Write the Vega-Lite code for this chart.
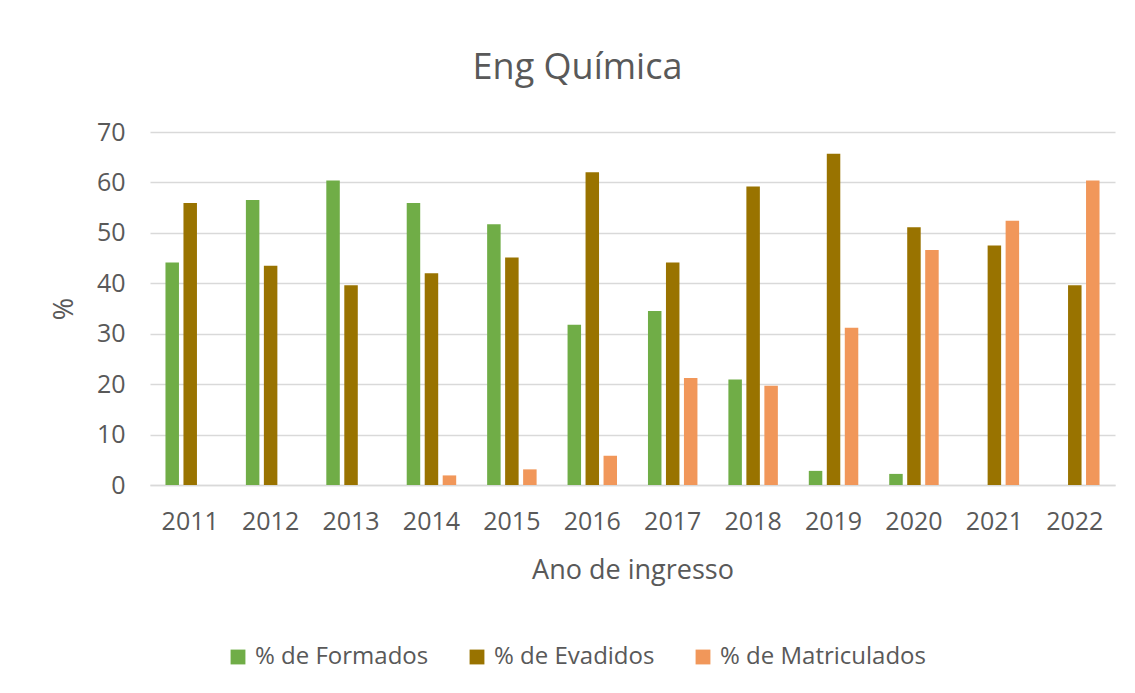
{
  "$schema": "https://vega.github.io/schema/vega-lite/v6.json",
  "autosize": "none",
  "width": 965,
  "height": 353,
  "padding": {"left": 150, "top": 132, "right": 20, "bottom": 208},
  "background": "white",
  "config": {
    "font": "Open Sans",
    "view": {"stroke": null}
  },
  "title": {
    "text": "Eng Química",
    "fontSize": 36,
    "fontWeight": "normal",
    "color": "#595959",
    "anchor": "middle",
    "dx": -55,
    "offset": 33,
    "font": "Open Sans"
  },
  "data": {
    "values": [
      {"ano": "2011", "serie": "% de Formados", "valor": 44.1},
      {"ano": "2011", "serie": "% de Evadidos", "valor": 55.9},
      {"ano": "2011", "serie": "% de Matriculados", "valor": 0},
      {"ano": "2012", "serie": "% de Formados", "valor": 56.5},
      {"ano": "2012", "serie": "% de Evadidos", "valor": 43.5},
      {"ano": "2012", "serie": "% de Matriculados", "valor": 0},
      {"ano": "2013", "serie": "% de Formados", "valor": 60.4},
      {"ano": "2013", "serie": "% de Evadidos", "valor": 39.6},
      {"ano": "2013", "serie": "% de Matriculados", "valor": 0},
      {"ano": "2014", "serie": "% de Formados", "valor": 55.9},
      {"ano": "2014", "serie": "% de Evadidos", "valor": 42.0},
      {"ano": "2014", "serie": "% de Matriculados", "valor": 1.9},
      {"ano": "2015", "serie": "% de Formados", "valor": 51.7},
      {"ano": "2015", "serie": "% de Evadidos", "valor": 45.1},
      {"ano": "2015", "serie": "% de Matriculados", "valor": 3.1},
      {"ano": "2016", "serie": "% de Formados", "valor": 31.8},
      {"ano": "2016", "serie": "% de Evadidos", "valor": 62.0},
      {"ano": "2016", "serie": "% de Matriculados", "valor": 5.8},
      {"ano": "2017", "serie": "% de Formados", "valor": 34.5},
      {"ano": "2017", "serie": "% de Evadidos", "valor": 44.1},
      {"ano": "2017", "serie": "% de Matriculados", "valor": 21.2},
      {"ano": "2018", "serie": "% de Formados", "valor": 20.9},
      {"ano": "2018", "serie": "% de Evadidos", "valor": 59.2},
      {"ano": "2018", "serie": "% de Matriculados", "valor": 19.7},
      {"ano": "2019", "serie": "% de Formados", "valor": 2.8},
      {"ano": "2019", "serie": "% de Evadidos", "valor": 65.7},
      {"ano": "2019", "serie": "% de Matriculados", "valor": 31.2},
      {"ano": "2020", "serie": "% de Formados", "valor": 2.2},
      {"ano": "2020", "serie": "% de Evadidos", "valor": 51.1},
      {"ano": "2020", "serie": "% de Matriculados", "valor": 46.6},
      {"ano": "2021", "serie": "% de Formados", "valor": 0},
      {"ano": "2021", "serie": "% de Evadidos", "valor": 47.5},
      {"ano": "2021", "serie": "% de Matriculados", "valor": 52.4},
      {"ano": "2022", "serie": "% de Formados", "valor": 0},
      {"ano": "2022", "serie": "% de Evadidos", "valor": 39.6},
      {"ano": "2022", "serie": "% de Matriculados", "valor": 60.4}
    ]
  },
  "mark": {"type": "bar"},
  "encoding": {
    "x": {
      "field": "ano",
      "type": "nominal",
      "scale": {"paddingInner": 0, "paddingOuter": 0},
      "axis": {
        "title": "Ano de ingresso",
        "titleFontSize": 27,
        "titleFontWeight": "normal",
        "titleColor": "#595959",
        "titlePadding": 23,
        "labelAngle": 0,
        "labelFontSize": 25,
        "labelColor": "#595959",
        "labelPadding": 24,
        "ticks": false,
        "domain": true,
        "domainColor": "#D9D9D9",
        "domainWidth": 1.5
      }
    },
    "xOffset": {
      "field": "serie",
      "type": "nominal",
      "sort": ["% de Formados", "% de Evadidos", "% de Matriculados"],
      "scale": {"paddingInner": 0.25, "paddingOuter": 0.86}
    },
    "y": {
      "field": "valor",
      "type": "quantitative",
      "scale": {"domain": [0, 70], "nice": false},
      "axis": {
        "title": "%",
        "titleFontSize": 27,
        "titleFontWeight": "normal",
        "titleColor": "#595959",
        "titlePadding": 18,
        "values": [0, 10, 20, 30, 40, 50, 60, 70],
        "labelFontSize": 25,
        "labelColor": "#595959",
        "labelPadding": 25,
        "ticks": false,
        "domain": false,
        "grid": true,
        "gridColor": "#D9D9D9",
        "gridWidth": 1.5
      }
    },
    "color": {
      "field": "serie",
      "type": "nominal",
      "sort": ["% de Formados", "% de Evadidos", "% de Matriculados"],
      "scale": {
        "domain": ["% de Formados", "% de Evadidos", "% de Matriculados"],
        "range": ["#70AD47", "#997300", "#F1975A"]
      },
      "legend": {
        "title": null,
        "orient": "none",
        "direction": "horizontal",
        "legendX": 76,
        "legendY": 513,
        "symbolType": "square",
        "symbolSize": 220,
        "symbolStrokeWidth": 0,
        "labelFontSize": 24,
        "labelColor": "#595959",
        "labelOffset": 5,
        "labelLimit": 400,
        "columnPadding": 36
      }
    }
  }
}
